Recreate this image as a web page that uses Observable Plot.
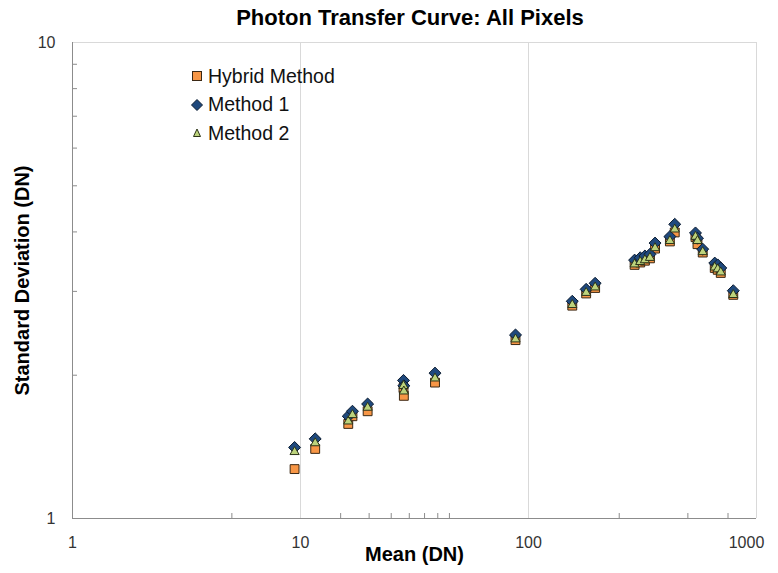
<!DOCTYPE html>
<html><head><meta charset="utf-8">
<script src="https://cdn.jsdelivr.net/npm/d3@7"></script>
<script src="https://cdn.jsdelivr.net/npm/@observablehq/plot@0.6"></script>
<style>
body{margin:0;background:#fff;font-family:"Liberation Sans",Arial,sans-serif;}
#wrap{position:relative;width:778px;height:573px;overflow:hidden;}
#title{height:30px;line-height:36px;text-align:center;font-weight:bold;font-size:22px;color:#000;padding-left:42px;box-sizing:border-box;}
#legend{position:absolute;left:190px;top:62px;font-size:19.5px;color:#111;}
.row{height:28.5px;display:flex;align-items:center;}
.row svg{margin-right:4px;}
</style></head><body>
<div id="wrap"><div id="title">Photon Transfer Curve: All Pixels</div><div id="chart"></div><div id="legend"></div></div>
<script>
// Data
const meanDN    = [9.42, 11.6, 16.2, 16.9, 19.7, 28.3, 28.4, 38.9, 87.7, 155.6, 179, 196, 292, 309, 324, 341, 359, 417, 438, 540, 551, 581, 656, 676, 697, 791];
const method1SD = [1.41, 1.47, 1.64, 1.68, 1.74, 1.95, 1.90, 2.02, 2.43, 2.86, 3.03, 3.12, 3.49, 3.53, 3.56, 3.59, 3.79, 3.91, 4.15, 3.98, 3.88, 3.68, 3.44, 3.41, 3.36, 3.01];
const method2SD = [1.38, 1.44, 1.60, 1.65, 1.71, 1.90, 1.85, 1.97, 2.38, 2.81, 2.98, 3.06, 3.42, 3.46, 3.49, 3.53, 3.70, 3.83, 4.05, 3.91, 3.83, 3.63, 3.37, 3.34, 3.29, 2.95];
const hybridSD  = [1.27, 1.40, 1.58, 1.64, 1.68, 1.88, 1.81, 1.93, 2.37, 2.80, 2.97, 3.05, 3.41, 3.45, 3.48, 3.52, 3.69, 3.82, 3.99, 3.90, 3.77, 3.62, 3.36, 3.33, 3.28, 2.95];

const seriesNames = ["Hybrid Method", "Method 1", "Method 2"];
const xTicks = [1, 10, 100];
const xLastTick = [1000];
const yTicks = [1, 10];
const xMinorTicks = [5, 15, 20, 25, 30, 35, 40, 45, 250, 500, 750];
const yMinorTicks = [2, 3, 4, 5, 6, 7, 8, 9];
const xGrid = [10, 100, 1000];
const yGrid = [10];
const titleText = "Photon Transfer Curve: All Pixels";
const xLabel = "Mean (DN)";
const yLabel = "Standard Deviation (DN)";

const colors = {hybrid: "#F79646", m1: "#1F497D", m2: "#BCD37C"};
const strokes = {hybrid: "#3b2814", m1: "#0c1c30", m2: "#2b3318"};

const rows = meanDN.map((m, i) => ({mean: m, hybrid: hybridSD[i], m1: method1SD[i], m2: method2SD[i]}));

const W = 778, H = 543, mL = 72, mR = 22, mT = 12, mB = 55;
const plotW = W - mL - mR, plotH = H - mT - mB;
const font = '"Liberation Sans", Arial, sans-serif';

const chart = Plot.plot({
  width: W, height: H,
  marginLeft: mL, marginRight: mR, marginTop: mT, marginBottom: mB,
  style: {fontFamily: font, fontSize: "16px", color: "#333", background: "#fff"},
  x: {type: "log", domain: [1, 1000]},
  y: {type: "log", domain: [1, 10]},
  marks: [
    Plot.ruleX(xGrid, {stroke: "#d9d9d9", strokeWidth: 1}),
    Plot.ruleY(yGrid, {stroke: "#d9d9d9", strokeWidth: 1}),
    Plot.ruleX(xMinorTicks, {stroke: "#8c8c8c", insetTop: plotH - 5}),
    Plot.ruleY(yMinorTicks, {stroke: "#8c8c8c", insetRight: plotW - 5}),
    Plot.ruleX([1], {stroke: "#8c8c8c"}),
    Plot.ruleY([1], {stroke: "#8c8c8c"}),
    Plot.axisX(xTicks, {tickSize: 0, tickPadding: 18, tickFormat: d => String(d), label: null, fontSize: 16, fill: "#333"}),
    Plot.axisX(xLastTick, {tickSize: 0, tickPadding: 18, tickFormat: d => String(d), label: null, fontSize: 16, fill: "#333", dx: -10}),
    Plot.axisY(yTicks, {tickSize: 0, tickPadding: 17, tickFormat: d => String(d), label: null, fontSize: 16, fill: "#333"}),
    Plot.text([xLabel], {text: d => d, frameAnchor: "bottom", dy: 42, fontWeight: "bold", fontSize: 20, fill: "#000"}),
    Plot.text([yLabel], {text: d => d, frameAnchor: "left", textAnchor: "middle", dx: -50, rotate: -90, fontWeight: "bold", fontSize: 20, fill: "#000"}),
    Plot.dot(rows, {x: "mean", y: "hybrid", symbol: "square", r: 5, fill: colors.hybrid, stroke: strokes.hybrid, strokeWidth: 1}),
    Plot.dot(rows, {x: "mean", y: "m1", symbol: "diamond2", r: 5.4, fill: colors.m1, stroke: strokes.m1, strokeWidth: 1}),
    Plot.dot(rows, {x: "mean", y: "m2", symbol: "triangle", r: 3.4, fill: colors.m2, stroke: strokes.m2, strokeWidth: 1})
  ]
});
document.getElementById("chart").appendChild(chart);
document.getElementById("title").textContent = titleText;

// Legend
const shapes = [
  `<svg width="14" height="14"><rect x="2.5" y="2.5" width="9" height="9" fill="${colors.hybrid}" stroke="${strokes.hybrid}"/></svg>`,
  `<svg width="14" height="14"><path d="M7,1.5L12.5,7L7,12.5L1.5,7Z" fill="${colors.m1}" stroke="${strokes.m1}"/></svg>`,
  `<svg width="14" height="14"><path d="M7,3L10.5,10.5L3.5,10.5Z" fill="${colors.m2}" stroke="${strokes.m2}"/></svg>`
];
document.getElementById("legend").innerHTML = seriesNames.map((n, i) => `<div class="row">${shapes[i]}<span>${n}</span></div>`).join("");
</script>
</body></html>
